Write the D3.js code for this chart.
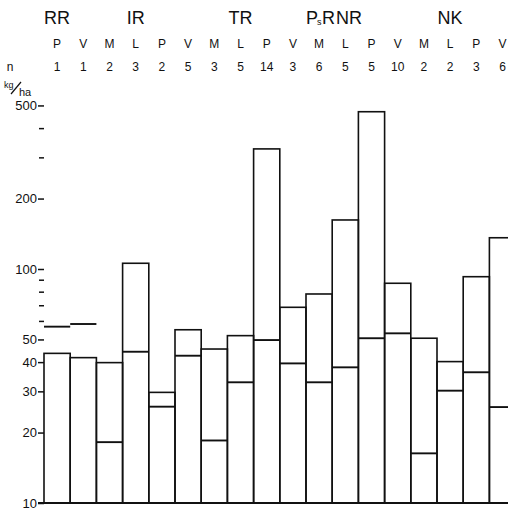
<!DOCTYPE html>
<html>
<head>
<meta charset="utf-8">
<script src="https://cdn.jsdelivr.net/npm/d3@7"></script>
<style>
  body { margin: 0; background: #fff; }
  svg { display: block; font-family: "Liberation Sans", "DejaVu Sans", sans-serif; }
  .tick text { font-size: 13px; fill: #111; }
  .tick line { stroke: #111; stroke-width: 1.5; }
</style>
</head>
<body>
<svg id="chart" width="508" height="510"></svg>
<script>
// columns, left to right
var types = ["P", "V", "M", "L", "P", "V", "M", "L", "P", "V", "M", "L", "P", "V", "M", "L", "P", "V"];
var counts = [1, 1, 2, 3, 2, 5, 3, 5, 14, 3, 6, 5, 5, 10, 2, 2, 3, 6];
// box height (kg/ha) and the extra horizontal mark
var boxVals = [43.6, 41.8, 39.8, 105.8, 29.7, 55.0, 45.5, 51.9, 326, 68.6, 78.2, 162, 470, 86.9, 50.6, 40.2, 92.7, 136];
var markVals = [56.7, 58.2, 18.2, 44.3, 25.8, 42.6, 18.5, 32.8, 49.7, 39.5, 32.8, 38.0, 50.6, 53.1, 16.3, 30.2, 36.2, 25.7];
// group names and the column they stand over
var groupNames = ["RR", "IR", "TR", "NK"];
var groupCols = [0, 3, 7, 15];
var majorTicks = [10, 20, 30, 40, 50, 100, 200, 500];
var minorTicks = [60, 70, 80, 90, 300, 400];

var svg = d3.select("#chart");
var left = 44, base = 503, colW = 26.2;

var y = d3.scaleLog().domain([10, 1000]).range([base, 35]);
var x = d3.scaleBand().domain(d3.range(types.length))
  .range([left, left + colW * types.length]).padding(0);

// y axis, labelled ticks then the short unlabelled ones
var axis = svg.append("g").attr("transform", "translate(" + left + ",0)");
axis.call(d3.axisLeft(y).tickValues(majorTicks).tickSize(6).tickPadding(1)
  .tickFormat(d3.format("d")));
axis.select(".domain").remove();
var minor = svg.append("g").attr("transform", "translate(" + left + ",0)");
minor.call(d3.axisLeft(y).tickValues(minorTicks).tickSize(5).tickFormat(""));
minor.select(".domain").remove();

// bars
var bars = svg.append("g").attr("fill", "none").attr("stroke", "#111").attr("stroke-width", 1.6);
bars.selectAll("rect").data(boxVals).enter().append("rect")
  .attr("x", function(d, i) { return x(i); })
  .attr("y", function(d) { return y(d); })
  .attr("width", x.bandwidth())
  .attr("height", function(d) { return base - y(d); });
bars.selectAll("line").data(markVals).enter().append("line")
  .attr("x1", function(d, i) { return x(i); })
  .attr("x2", function(d, i) { return x(i) + x.bandwidth(); })
  .attr("y1", function(d) { return y(d); })
  .attr("y2", function(d) { return y(d); })
  .attr("stroke-width", 1.9);

// baseline
svg.append("line").attr("x1", left - 6).attr("x2", 508)
  .attr("y1", base).attr("y2", base)
  .attr("stroke", "#111").attr("stroke-width", 2);

// header rows
var mid = function(i) { return x(i) + x.bandwidth() / 2; };
svg.selectAll(".type").data(types).enter().append("text")
  .attr("x", function(d, i) { return mid(i); }).attr("y", 48)
  .attr("text-anchor", "middle").attr("font-size", 12).attr("fill", "#111")
  .text(function(d) { return d; });
svg.selectAll(".count").data(counts).enter().append("text")
  .attr("x", function(d, i) { return mid(i); }).attr("y", 71)
  .attr("text-anchor", "middle").attr("font-size", 12).attr("fill", "#111")
  .text(function(d) { return d; });
svg.append("text").attr("x", 10).attr("y", 71).attr("font-size", 12)
  .attr("text-anchor", "middle").attr("fill", "#111").text("n");

svg.selectAll(".group").data(groupNames).enter().append("text")
  .attr("x", function(d, i) { return mid(groupCols[i]); }).attr("y", 24)
  .attr("text-anchor", "middle").attr("font-size", 18).attr("fill", "#111")
  .text(function(d) { return d; });

// the PsR / NR label, set letter by letter
svg.append("text").attr("x", 306).attr("y", 24).attr("font-size", 18).attr("fill", "#111").text("P");
svg.append("text").attr("x", 317).attr("y", 25).attr("font-size", 9).attr("fill", "#111").text("s");
svg.append("text").attr("x", 322).attr("y", 24).attr("font-size", 18).attr("fill", "#111").text("R");
svg.append("text").attr("x", 336).attr("y", 24).attr("font-size", 18).attr("fill", "#111").text("NR");

// unit
svg.append("text").attr("x", 4).attr("y", 88).attr("font-size", 9).attr("fill", "#111").text("kg");
svg.append("line").attr("x1", 11).attr("y1", 94).attr("x2", 21).attr("y2", 82)
  .attr("stroke", "#111").attr("stroke-width", 1.2);
svg.append("text").attr("x", 19).attr("y", 96).attr("font-size", 11).attr("fill", "#111").text("ha");
</script>
</body>
</html>
